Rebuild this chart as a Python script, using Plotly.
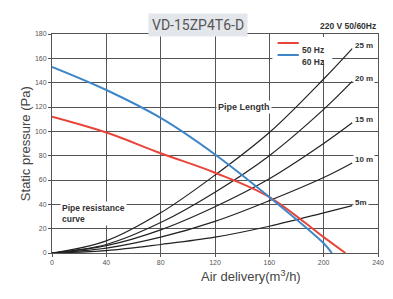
import plotly.graph_objects as go

# Fan curves (air delivery m3/h -> static pressure Pa)
x_50 = [0, 40, 80, 120, 160, 200, 216]
y_50 = [112, 99, 82, 66, 46, 13, 0]
x_60 = [0, 40, 80, 120, 160, 200, 206]
y_60 = [153, 134, 111, 81, 46, 8, 0]
series_names = ["50 Hz", "60 Hz"]
series_colors = ["#e8443a", "#3f86c8"]

# Pipe resistance curves
pipe_x = [0, 40, 80, 120, 160, 200, 221]
pipe_25 = [0, 10, 33, 64, 99, 143, 168]
pipe_20 = [0, 7, 25, 50, 80, 118, 141]
pipe_15 = [0, 6, 19, 38, 61, 90, 107]
pipe_10 = [0, 4, 13, 26, 43, 62, 74]
pipe_5 = [0, 2, 7, 13, 22, 33, 39]
pipe_labels = ["25 m", "20 m", "15 m", "10 m", "5m"]

x_ticks = [0, 40, 80, 120, 160, 200, 240]
y_ticks = [0, 20, 40, 60, 80, 100, 120, 140, 160, 180]

FONT = "Liberation Sans, Arial, sans-serif"
fig = go.Figure()

for ys, lab in zip([pipe_25, pipe_20, pipe_15, pipe_10, pipe_5], pipe_labels):
    fig.add_trace(go.Scatter(x=pipe_x, y=ys, mode="lines", line=dict(color="#222", width=1.2, shape="spline"),
                             showlegend=False, hoverinfo="skip"))
    fig.add_annotation(x=pipe_x[-1], y=ys[-1], text=f"<b>{lab}</b>", showarrow=False, xanchor="left",
                       xshift=1, yshift=3, font=dict(size=8, color="#333", family=FONT), bgcolor="white")

for xs, ys, nm, col in zip([x_50, x_60], [y_50, y_60], series_names, series_colors):
    fig.add_trace(go.Scatter(x=xs, y=ys, mode="lines", name=nm, showlegend=False,
                             line=dict(color=col, width=2, shape="spline")))

# compact legend drawn in paper coordinates
fig.add_shape(type="rect", xref="paper", yref="paper", x0=0.676, x1=0.86, y0=0.88, y1=0.986,
              fillcolor="white", line=dict(width=0), layer="above")
for i, (nm, col) in enumerate(zip(series_names, series_colors)):
    yy = 0.959 - i * 0.055
    fig.add_shape(type="line", xref="paper", yref="paper", x0=0.692, x1=0.757, y0=yy, y1=yy,
                  line=dict(color=col, width=2))
    fig.add_annotation(x=0.76, y=yy, xref="paper", yref="paper", text=f"<b>{nm}</b>", showarrow=False,
                       xanchor="left", font=dict(size=8.5, color="#333", family=FONT))

fig.add_annotation(x=141, y=120, text="<b>Pipe Length</b>", showarrow=False,
                   font=dict(size=9, color="#333", family=FONT), bgcolor="white")
fig.add_annotation(x=6, y=32.5, text="<b>Pipe resistance<br>curve</b>", showarrow=False, xanchor="left",
                   align="left", font=dict(size=8.5, color="#333", family=FONT), bgcolor="white")

fig.add_annotation(x=0.447, y=1.095, xref="paper", yref="paper", text="VD-15ZP4T6-D", showarrow=False,
                   font=dict(size=14, color="#555", family="Roboto, sans-serif"), bgcolor="#e3e6eb",
                   borderpad=3)
fig.add_annotation(x=1.0, y=1.005, xref="paper", yref="paper", text="<b>220 V 50/60Hz</b>", showarrow=False,
                   xanchor="right", yanchor="bottom", font=dict(size=8.5, color="#333", family=FONT))
fig.add_annotation(x=-0.11, y=0.5, xref="paper", yref="paper", text="Static pressure (Pa)", textangle=-90,
                   showarrow=False, font=dict(size=13, color="#444", family=FONT))
fig.add_annotation(x=0.609, y=-0.151, xref="paper", yref="paper", text="Air delivery(m<sup>3</sup>/h)",
                   showarrow=False, font=dict(size=13, color="#444", family=FONT))

fig.update_xaxes(range=[0, 240], tickvals=x_ticks, showgrid=True, gridcolor="#555", gridwidth=1,
                 showline=True, linecolor="#555", mirror=True, ticks="outside", ticklen=3, tickcolor="#555",
                 tickfont=dict(size=7, color="#555", family=FONT), zeroline=False)
fig.update_yaxes(range=[0, 180], tickvals=y_ticks, showgrid=True, gridcolor="#555", gridwidth=1,
                 showline=True, linecolor="#555", mirror=True, ticks="outside", ticklen=3, tickcolor="#555",
                 tickfont=dict(size=7, color="#555", family=FONT), zeroline=False)

# page body adds an 8px margin; figure sized so plot area lands at the reference pixels
fig.update_layout(width=384, height=283, margin=dict(l=44, r=8, t=26, b=38),
                  paper_bgcolor="white", plot_bgcolor="white", showlegend=False)

fig.write_html("out.html")
